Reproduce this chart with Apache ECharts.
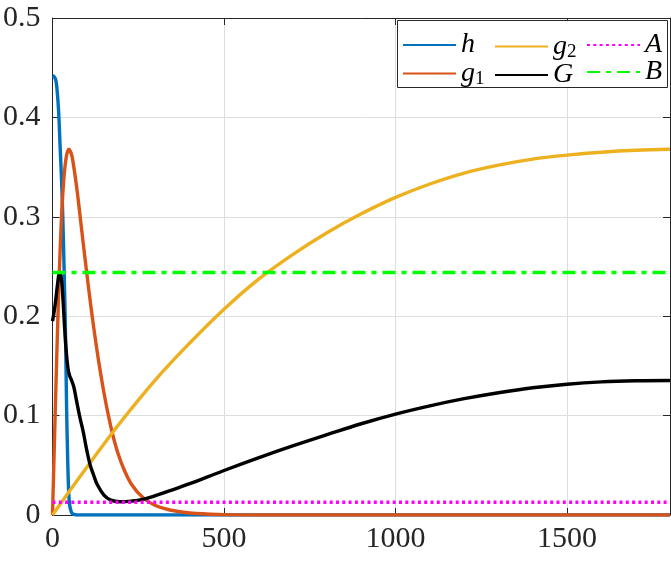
<!DOCTYPE html>
<html>
<head>
<meta charset="utf-8">
<script src="https://cdn.jsdelivr.net/npm/echarts@6/dist/echarts.min.js"></script>
<style>html,body{margin:0;padding:0;background:#fff}#c{width:671px;height:563px}</style>
</head>
<body>
<div id="c"></div>
<script>
// ---- data ----
const xTicks = [0, 500, 1000, 1500];
const yTicks = [0, 0.1, 0.2, 0.3, 0.4, 0.5];

const hT = [0, 5, 10, 14, 18, 22, 26, 30, 34, 38, 41, 44, 47, 50, 55, 60, 70, 1800];
const hV = [0.442, 0.441, 0.437, 0.425, 0.405, 0.372, 0.340, 0.300, 0.245, 0.180, 0.110, 0.060, 0.025, 0.010, 0.003, 0.001, 0, 0];

const g1T = [0, 5, 10, 15, 20, 25, 30, 35, 40, 44, 48, 52, 56, 60, 70, 80, 90, 100, 110, 120, 130, 140, 150, 160, 170, 180, 190, 207, 230, 265, 300, 342, 400, 500, 600, 1800];
const g1V = [0, 0.065, 0.130, 0.190, 0.245, 0.290, 0.323, 0.346, 0.360, 0.366, 0.368, 0.366, 0.362, 0.355, 0.331, 0.302, 0.272, 0.243, 0.215, 0.189, 0.165, 0.143, 0.123, 0.105, 0.089, 0.075, 0.063, 0.047, 0.031, 0.017, 0.0095, 0.005, 0.002, 0.0004, 0, 0];

const g2T = [0, 100, 200, 300, 400, 500, 600, 700, 800, 900, 1000, 1100, 1200, 1300, 1400, 1500, 1600, 1700, 1800];
const g2V = [0, 0.048, 0.094, 0.136, 0.173, 0.207, 0.237, 0.262, 0.284, 0.303, 0.3195, 0.333, 0.344, 0.352, 0.358, 0.362, 0.365, 0.367, 0.368];

const GT = [0, 5, 10, 15, 20, 25, 30, 35, 40, 45, 50, 55, 62, 70, 80, 90, 100, 110, 120, 130, 150, 170, 197, 230, 260, 300, 350, 400, 500, 600, 700, 800, 900, 1000, 1100, 1200, 1300, 1400, 1500, 1600, 1700, 1800];
const GV = [0.195, 0.205, 0.218, 0.233, 0.243, 0.240, 0.220, 0.190, 0.165, 0.148, 0.140, 0.136, 0.129, 0.115, 0.098, 0.083, 0.065, 0.050, 0.040, 0.031, 0.020, 0.015, 0.0134, 0.0140, 0.0155, 0.0195, 0.0253, 0.0315, 0.0448, 0.0575, 0.0695, 0.0808, 0.0918, 0.1015, 0.1098, 0.1170, 0.1230, 0.1280, 0.1316, 0.1339, 0.1350, 0.1353];

const AT = [0, 1800];
const AV = [0.0128, 0.0128];
const BT = [0, 1800];
const BV = [0.244, 0.244];

const names = ['h', 'g1', 'g2', 'G', 'A', 'B'];
const colors = ['#0072BD', '#D95319', '#EDB120', '#000000', '#FF00FF', '#00FF00'];

// ---- chart ----
const pairs = (t, v) => t.map((x, i) => [x, v[i]]);
const FONT = '"Liberation Serif", "Times New Roman", serif';
const AXC = '#262626';
const LW = 3.4;

function lineSeries(name, t, v, color, type, smooth) {
  return {
    name: name, type: 'line', data: pairs(t, v),
    showSymbol: false, symbol: 'none', smooth: smooth,
    clip: true, animation: false,
    lineStyle: { color: color, width: LW, type: type, cap: 'butt' },
    itemStyle: { color: color }
  };
}

function legendAt(left, data) {
  return {
    orient: 'vertical', left: left, top: 31,
    data: data,
    itemWidth: 53, itemHeight: 12, itemGap: -1,
    padding: 0,
    backgroundColor: 'transparent', borderWidth: 0,
    itemStyle: { opacity: 0 },
    formatter: n => n.length > 1 ? '{i|' + n[0] + '}{s|' + n.slice(1) + '}' : '{i|' + n + '}',
    textStyle: {
      color: '#000', fontFamily: FONT, fontSize: 28, lineHeight: 19,
      rich: {
        i: { fontFamily: FONT, fontSize: 28, fontStyle: 'italic', lineHeight: 19, color: '#000' },
        s: { fontFamily: FONT, fontSize: 19, lineHeight: 7, padding: [12, 0, 0, 0], color: '#000' }
      }
    }
  };
}

const axisCommon = {
  axisLine: { show: true, onZero: false, lineStyle: { color: AXC, width: 1 } },
  axisTick: { show: true, inside: true, length: 7, lineStyle: { color: AXC } }
};

const chart = echarts.init(document.getElementById('c'), null, { renderer: 'canvas' });
chart.setOption({
  animation: false,
  backgroundColor: '#fff',
  grid: { left: 49, right: 1, top: 18, bottom: 48, containLabel: false },
  xAxis: [Object.assign({
    type: 'value', min: 0, max: 1800, interval: 500, position: 'bottom',
    axisLabel: { show: true, showMaxLabel: false, margin: 9, color: AXC, fontFamily: FONT, fontSize: 30,
      formatter: v => xTicks.includes(v) ? String(v) : '' },
    splitLine: { show: true, lineStyle: { color: '#dedede', width: 1 } }
  }, axisCommon), Object.assign({
    type: 'value', min: 0, max: 1800, interval: 500, position: 'top',
    axisLabel: { show: false }, splitLine: { show: false }
  }, axisCommon)],
  yAxis: [Object.assign({
    type: 'value', min: 0, max: 0.5, interval: 0.1, position: 'left',
    axisLabel: { show: true, margin: 12, color: AXC, fontFamily: FONT, fontSize: 30,
      formatter: v => { const r = yTicks.find(t => Math.abs(t - v) < 1e-9); return r === undefined ? '' : String(r); } },
    splitLine: { show: true, lineStyle: { color: '#dedede', width: 1 } }
  }, axisCommon), Object.assign({
    type: 'value', min: 0, max: 0.5, interval: 0.1, position: 'right',
    axisLabel: { show: false }, splitLine: { show: false }
  }, axisCommon)],
  graphic: [{
    type: 'rect', left: 397, top: 20, z: 3,
    shape: { width: 270, height: 67 },
    style: { fill: '#fff', stroke: AXC, lineWidth: 1 }
  }],
  legend: [
    legendAt(402, ['h', 'g1']),
    legendAt(494, ['g2', 'G']),
    legendAt(586, ['A', 'B'])
  ],
  series: [
    lineSeries('h', hT, hV, colors[0], 'solid', 0.4),
    lineSeries('g1', g1T, g1V, colors[1], 'solid', 0.4),
    lineSeries('g2', g2T, g2V, colors[2], 'solid', 0.4),
    lineSeries('G', GT, GV, colors[3], 'solid', 0.4),
    lineSeries('A', AT, AV, colors[4], [3, 3.3], false),
    lineSeries('B', BT, BV, colors[5], [13, 6, 5, 6], false)
  ]
});
</script>
</body>
</html>
